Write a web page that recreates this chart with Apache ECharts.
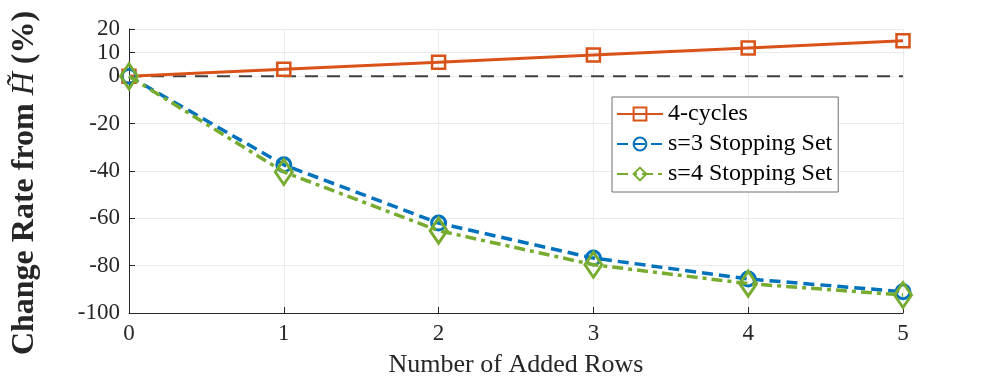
<!DOCTYPE html>
<html>
<head>
<meta charset="utf-8">
<script src="https://cdn.jsdelivr.net/npm/echarts@6/dist/echarts.min.js"></script>
<style>
  html, body { margin: 0; padding: 0; background: #fff; }
  #main { width: 996px; height: 383px; }
</style>
</head>
<body>
<div id="main"></div>
<script>
var addedRows = [0, 1, 2, 3, 4, 5];
var cycles4 = [0, 3, 6, 9, 12, 15];
var stop3 = [0, -37.4, -62, -76.8, -85.6, -91];
var stop4 = [0, -40.4, -65.2, -79.6, -87.6, -92.4];
var baseline = [0, 0, 0, 0, 0, 0];
var yTicks = [-100, -80, -60, -40, -20, 0, 10, 20];

function pairs(ys) {
    return addedRows.map(function (x, i) { return [x, ys[i]]; });
}

var serif = 'Liberation Serif';
var axisColor = '#262626';

var option = {
    animation: false,
    backgroundColor: '#fff',
    grid: { left: 129, right: 93, top: 29, bottom: 68 },
    legend: {
        left: 612, top: 97,
        orient: 'vertical',
        backgroundColor: '#fff',
        borderColor: '#6e6e6e',
        borderWidth: 1,
        padding: [5, 6, 6, 4],
        itemGap: 6,
        itemWidth: 46,
        itemHeight: 16,
        textStyle: { fontFamily: serif, fontSize: 24, color: '#000' },
        data: ['4-cycles', 's=3 Stopping Set', 's=4 Stopping Set']
    },
    xAxis: {
        type: 'value',
        min: 0, max: 5, interval: 1,
        name: 'Number of Added Rows',
        nameLocation: 'middle',
        nameGap: 39,
        nameTextStyle: { fontFamily: serif, fontSize: 26, color: axisColor },
        axisLine: { onZero: false, lineStyle: { color: axisColor, width: 1 } },
        axisTick: { inside: true, length: 6, lineStyle: { color: axisColor } },
        axisLabel: { fontFamily: serif, fontSize: 23, color: axisColor, margin: 9 },
        splitLine: { show: true, lineStyle: { color: '#ebebeb', width: 1 } }
    },
    yAxis: {
        type: 'value',
        min: -100, max: 20, interval: 10,
        name: '{b|Change Rate from }{i|H̃}{b| (%)}',
        nameLocation: 'middle',
        nameRotate: 90,
        nameGap: 88,
        nameTextStyle: {
            padding: [0, 24, 0, 0],
            rich: {
                b: { fontFamily: serif, fontSize: 32, fontWeight: 'bold', color: axisColor },
                i: { fontFamily: serif, fontSize: 32, fontStyle: 'italic', color: axisColor }
            }
        },
        axisLine: { show: true, lineStyle: { color: axisColor, width: 1 } },
        axisTick: { inside: true, length: 6, customValues: yTicks, lineStyle: { color: axisColor } },
        axisLabel: { fontFamily: serif, fontSize: 23, color: axisColor, margin: 9, customValues: yTicks },
        splitLine: { show: true, lineStyle: { color: '#ebebeb', width: 1 } }
    },
    series: [
        {
            name: 'zero',
            type: 'line',
            data: pairs(baseline),
            symbol: 'none',
            lineStyle: { color: '#404040', width: 2, type: [13, 9] },
            z: 1,
            silent: true
        },
        {
            name: '4-cycles',
            type: 'line',
            data: pairs(cycles4),
            symbol: 'rect',
            symbolSize: 13,
            color: '#D95319',
            lineStyle: { color: '#D95319', width: 3 },
            itemStyle: { color: 'rgba(255,255,255,0)', borderColor: '#D95319', borderWidth: 2.5 },
            z: 2
        },
        {
            name: 's=3 Stopping Set',
            type: 'line',
            data: pairs(stop3),
            symbol: 'circle',
            symbolSize: 14,
            color: '#0072BD',
            lineStyle: { color: '#0072BD', width: 3.5, type: [11, 6] },
            itemStyle: { color: 'rgba(255,255,255,0)', borderColor: '#0072BD', borderWidth: 3 },
            z: 3
        },
        {
            name: 's=4 Stopping Set',
            type: 'line',
            data: pairs(stop4),
            symbol: 'diamond',
            symbolSize: [17, 25],
            color: '#77AC30',
            lineStyle: { color: '#77AC30', width: 3.5, type: [11, 5, 4, 5] },
            itemStyle: { color: 'rgba(255,255,255,0)', borderColor: '#77AC30', borderWidth: 3 },
            z: 4
        }
    ]
};

var myChart = echarts.init(document.getElementById('main'));
myChart.setOption(option);
</script>
</body>
</html>
